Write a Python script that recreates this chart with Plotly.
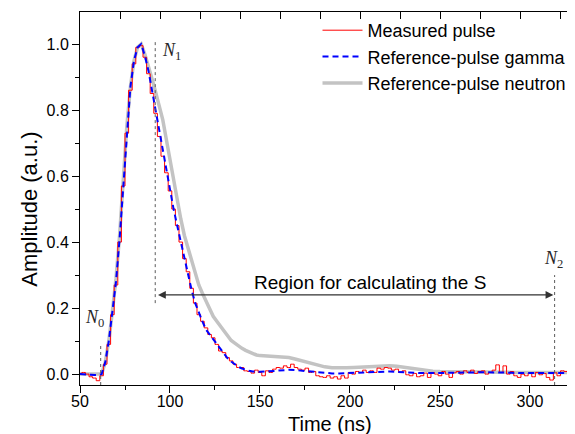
import plotly.graph_objects as go

# ---------------- data ----------------
# Measured pulse sampled every 2 ns from 50 to 328 ns
t_meas = list(range(50, 330, 2))
measured = [
    0.002, 0.005, 0.000, -0.008, -0.012, -0.020, -0.005, 0.030, 0.090, 0.180,   # 50-68
    0.270, 0.400, 0.570, 0.730, 0.860, 0.940, 0.990, 0.995, 0.960, 0.910,       # 70-88
    0.850, 0.790, 0.720, 0.660, 0.610, 0.555, 0.500, 0.450, 0.400, 0.350,       # 90-108
    0.310, 0.260, 0.215, 0.180, 0.160, 0.140, 0.120, 0.110, 0.090, 0.070,       # 110-128
    0.065, 0.050, 0.040, 0.030, 0.020, 0.020, 0.010, 0.008, 0.003, 0.012,       # 130-148
    0.005, -0.005, 0.010, 0.005, 0.015, 0.020, 0.018, 0.025, 0.020, 0.030,      # 150-168
    0.020, 0.015, 0.012, 0.018, 0.005, 0.008, -0.005, -0.008, -0.010, -0.005,   # 170-188
    -0.012, -0.008, -0.015, -0.005, -0.012, 0.005, 0.000, 0.008, 0.005, 0.012,  # 190-208
    0.005, 0.010, 0.005, 0.018, 0.015, 0.020, 0.018, 0.012, 0.015, 0.005,       # 210-228
    0.010, -0.002, -0.005, 0.002, -0.008, -0.005, 0.003, -0.010, 0.005, 0.000,  # 230-248
    -0.005, 0.008, 0.000, -0.010, 0.004, 0.008, 0.000, 0.010, 0.005, 0.012,     # 250-268
    0.002, 0.008, 0.010, 0.000, 0.005, 0.012, 0.028, 0.005, 0.025, 0.000,       # 270-288
    0.008, -0.005, -0.010, 0.000, -0.005, 0.003, -0.008, 0.005, -0.002, 0.002,  # 290-308
    -0.010, -0.018, 0.004, -0.005, 0.010, 0.008, 0.012, -0.005, 0.000, 0.005,   # 310-328
]

# Reference pulses (time grid: 2 ns up to 150 ns, then 4 ns)
t_ref = [50, 52, 54, 56, 58, 60, 62, 64, 66, 68, 70, 72, 74, 76, 78, 80, 82, 84, 86, 88,
         90, 92, 94, 96, 98, 100, 102, 104, 106, 108, 110, 112, 114, 116, 118, 120, 122,
         124, 126, 128, 130, 132, 134, 136, 138, 140, 142, 144, 146, 148, 150,
         154, 158, 162, 166, 170, 174, 178, 182, 186, 190, 194, 198, 202, 206, 210, 214,
         218, 222, 226, 230, 234, 238, 242, 246, 250, 254, 258, 262, 266, 270, 274, 278,
         282, 286, 290, 294, 298, 302, 306, 310, 314, 318, 322, 326, 328]

gamma_ref = [0.000, 0.000, 0.000, -0.002, -0.003, -0.003, 0.000, 0.035, 0.100, 0.190,
             0.280, 0.410, 0.570, 0.740, 0.870, 0.950, 0.990, 1.000, 0.965, 0.920,
             0.860, 0.800, 0.730, 0.670, 0.610, 0.555, 0.500, 0.450, 0.400, 0.350,
             0.300, 0.255, 0.215, 0.185, 0.160, 0.135, 0.120, 0.105, 0.090, 0.075,
             0.060, 0.048, 0.038, 0.030, 0.022, 0.017, 0.013, 0.010, 0.008, 0.007, 0.007,
             0.008, 0.010, 0.012, 0.013, 0.012, 0.010, 0.008, 0.005, 0.003, 0.002,
             0.002, 0.003, 0.004, 0.005, 0.006, 0.007, 0.008, 0.008, 0.007, 0.005,
             0.004, 0.003, 0.003, 0.003, 0.003, 0.004, 0.004, 0.005, 0.005, 0.005,
             0.006, 0.006, 0.006, 0.005, 0.004, 0.003, 0.003, 0.003, 0.003, 0.003,
             0.003, 0.004, 0.004, 0.004, 0.004]

neutron_ref = [0.000, 0.000, 0.000, 0.000, 0.000, 0.000, 0.000, 0.035, 0.100, 0.190,
               0.290, 0.420, 0.580, 0.750, 0.870, 0.950, 0.990, 1.000, 0.970, 0.935,
               0.895, 0.855, 0.815, 0.770, 0.710, 0.650, 0.585, 0.525, 0.470, 0.420,
               0.380, 0.340, 0.300, 0.270, 0.245, 0.220, 0.195, 0.175, 0.160, 0.145,
               0.130, 0.115, 0.102, 0.094, 0.085, 0.078, 0.072, 0.067, 0.062, 0.058, 0.056,
               0.055, 0.053, 0.052, 0.050, 0.045, 0.039, 0.033, 0.027, 0.022, 0.019,
               0.018, 0.019, 0.020, 0.021, 0.022, 0.024, 0.025, 0.025, 0.024, 0.021,
               0.018, 0.014, 0.011, 0.009, 0.008, 0.008, 0.007, 0.007, 0.006, 0.006,
               0.006, 0.006, 0.006, 0.006, 0.005, 0.005, 0.005, 0.005, 0.005, 0.005,
               0.005, 0.005, 0.005, 0.005, 0.005]

x_ticks = [50, 100, 150, 200, 250, 300]
y_ticks = [0.0, 0.2, 0.4, 0.6, 0.8, 1.0]

FONT = "Liberation Sans, Arial, sans-serif"
SERIF = "Liberation Serif, Times New Roman, serif"

fig = go.Figure()
fig.add_trace(go.Scatter(x=t_ref, y=neutron_ref, mode="lines", name="Reference-pulse neutron",
                         line=dict(color="rgb(195,195,195)", width=3.5), legendrank=3))
fig.add_trace(go.Scatter(x=t_meas, y=measured, mode="lines", name="Measured pulse",
                         line=dict(color="rgb(255,0,0)", width=1, shape="hvh"), legendrank=1))
fig.add_trace(go.Scatter(x=t_ref, y=gamma_ref, mode="lines", name="Reference-pulse gamma",
                         line=dict(color="rgb(0,0,255)", width=2, dash="6px,4px"), legendrank=2))
# dummy trace to show top / right frame axes
fig.add_trace(go.Scatter(x=[None], y=[None], xaxis="x2", yaxis="y2", showlegend=False,
                         hoverinfo="skip"))

YR = [-0.033, 1.097]
XR = [50, 327.8]

# dotted marker lines
dot = dict(color="rgb(90,90,90)", width=1, dash="dot")
fig.add_shape(type="line", x0=61.5, x1=61.5, y0=YR[0], y1=0.094, line=dot)
fig.add_shape(type="line", x0=91.8, x1=91.8, y0=0.215, y1=1.01, line=dot)
fig.add_shape(type="line", x0=313.7, x1=313.7, y0=YR[0], y1=0.30, line=dot)

# double arrow
fig.add_annotation(x=313.0, y=0.24, ax=92.5, ay=0.24, xref="x", yref="y", axref="x", ayref="y",
                   text="", showarrow=True, arrowhead=2, startarrowhead=2, arrowside="end+start",
                   arrowsize=1.3, arrowwidth=1.2, arrowcolor="rgb(50,50,50)")
fig.add_annotation(x=211, y=0.277, text="Region for calculating the S", showarrow=False,
                   font=dict(family=FONT, size=19, color="black"))
fig.add_annotation(x=58.3, y=0.167, text="<i>N</i><sub>0</sub>", showarrow=False,
                   font=dict(family=SERIF, size=18, color="rgb(40,40,40)"))
fig.add_annotation(x=100.6, y=0.976, text="<i>N</i><sub>1</sub>", showarrow=False,
                   font=dict(family=SERIF, size=18, color="rgb(40,40,40)"))
fig.add_annotation(x=312.8, y=0.348, text="<i>N</i><sub>2</sub>", showarrow=False,
                   font=dict(family=SERIF, size=18, color="rgb(40,40,40)"))

# axis titles
fig.add_annotation(x=0.5, y=-0.104, xref="paper", yref="paper", text="Time (ns)",
                   showarrow=False, xanchor="center", yanchor="middle", borderpad=0,
                   font=dict(family=FONT, size=20, color="black"))
fig.add_annotation(x=-0.1, y=0.47, xref="paper", yref="paper", text="Amplitude (a.u.)",
                   showarrow=False, xanchor="center", yanchor="middle", textangle=-90,
                   font=dict(family=FONT, size=22, color="black"))

axis_common = dict(showline=True, linecolor="black", linewidth=1, showgrid=False, zeroline=False,
                   tickcolor="black", tickfont=dict(family=FONT, size=16, color="black"))

fig.update_layout(
    width=575, height=434,
    margin=dict(l=72, r=3, t=4, b=57),
    plot_bgcolor="white", paper_bgcolor="white",
    font=dict(family=FONT, size=16, color="black"),
    xaxis=dict(range=XR, tickvals=x_ticks, ticks="outside", ticklen=7, tickwidth=1,
               ticklabelstandoff=-5,
               minor=dict(dtick=25, ticklen=4, tickcolor="black", ticks="outside"),
               **axis_common),
    yaxis=dict(range=YR, tickvals=y_ticks, tickformat=".1f", ticks="outside", ticklen=7,
               tickwidth=1, minor=dict(dtick=0.1, ticklen=4, tickcolor="black", ticks="outside"),
               **axis_common),
    xaxis2=dict(overlaying="x", side="top", range=[0, 12.5], dtick=1, ticks="inside", ticklen=7,
                showticklabels=False, showline=True, linecolor="black", showgrid=False,
                zeroline=False, tickcolor="black"),
    yaxis2=dict(overlaying="y", side="right", range=YR, tickvals=y_ticks, ticks="inside",
                ticklen=7, showticklabels=False, showline=True, linecolor="black",
                showgrid=False, zeroline=False, tickcolor="black",
                minor=dict(dtick=0.1, ticklen=4, tickcolor="black", ticks="inside")),
    legend=dict(x=0.475, y=1.0, xanchor="left", yanchor="top", bgcolor="rgba(0,0,0,0)",
                font=dict(family=FONT, size=18), tracegroupgap=0, itemwidth=40),
    showlegend=True,
)

fig.write_html("out.html")
